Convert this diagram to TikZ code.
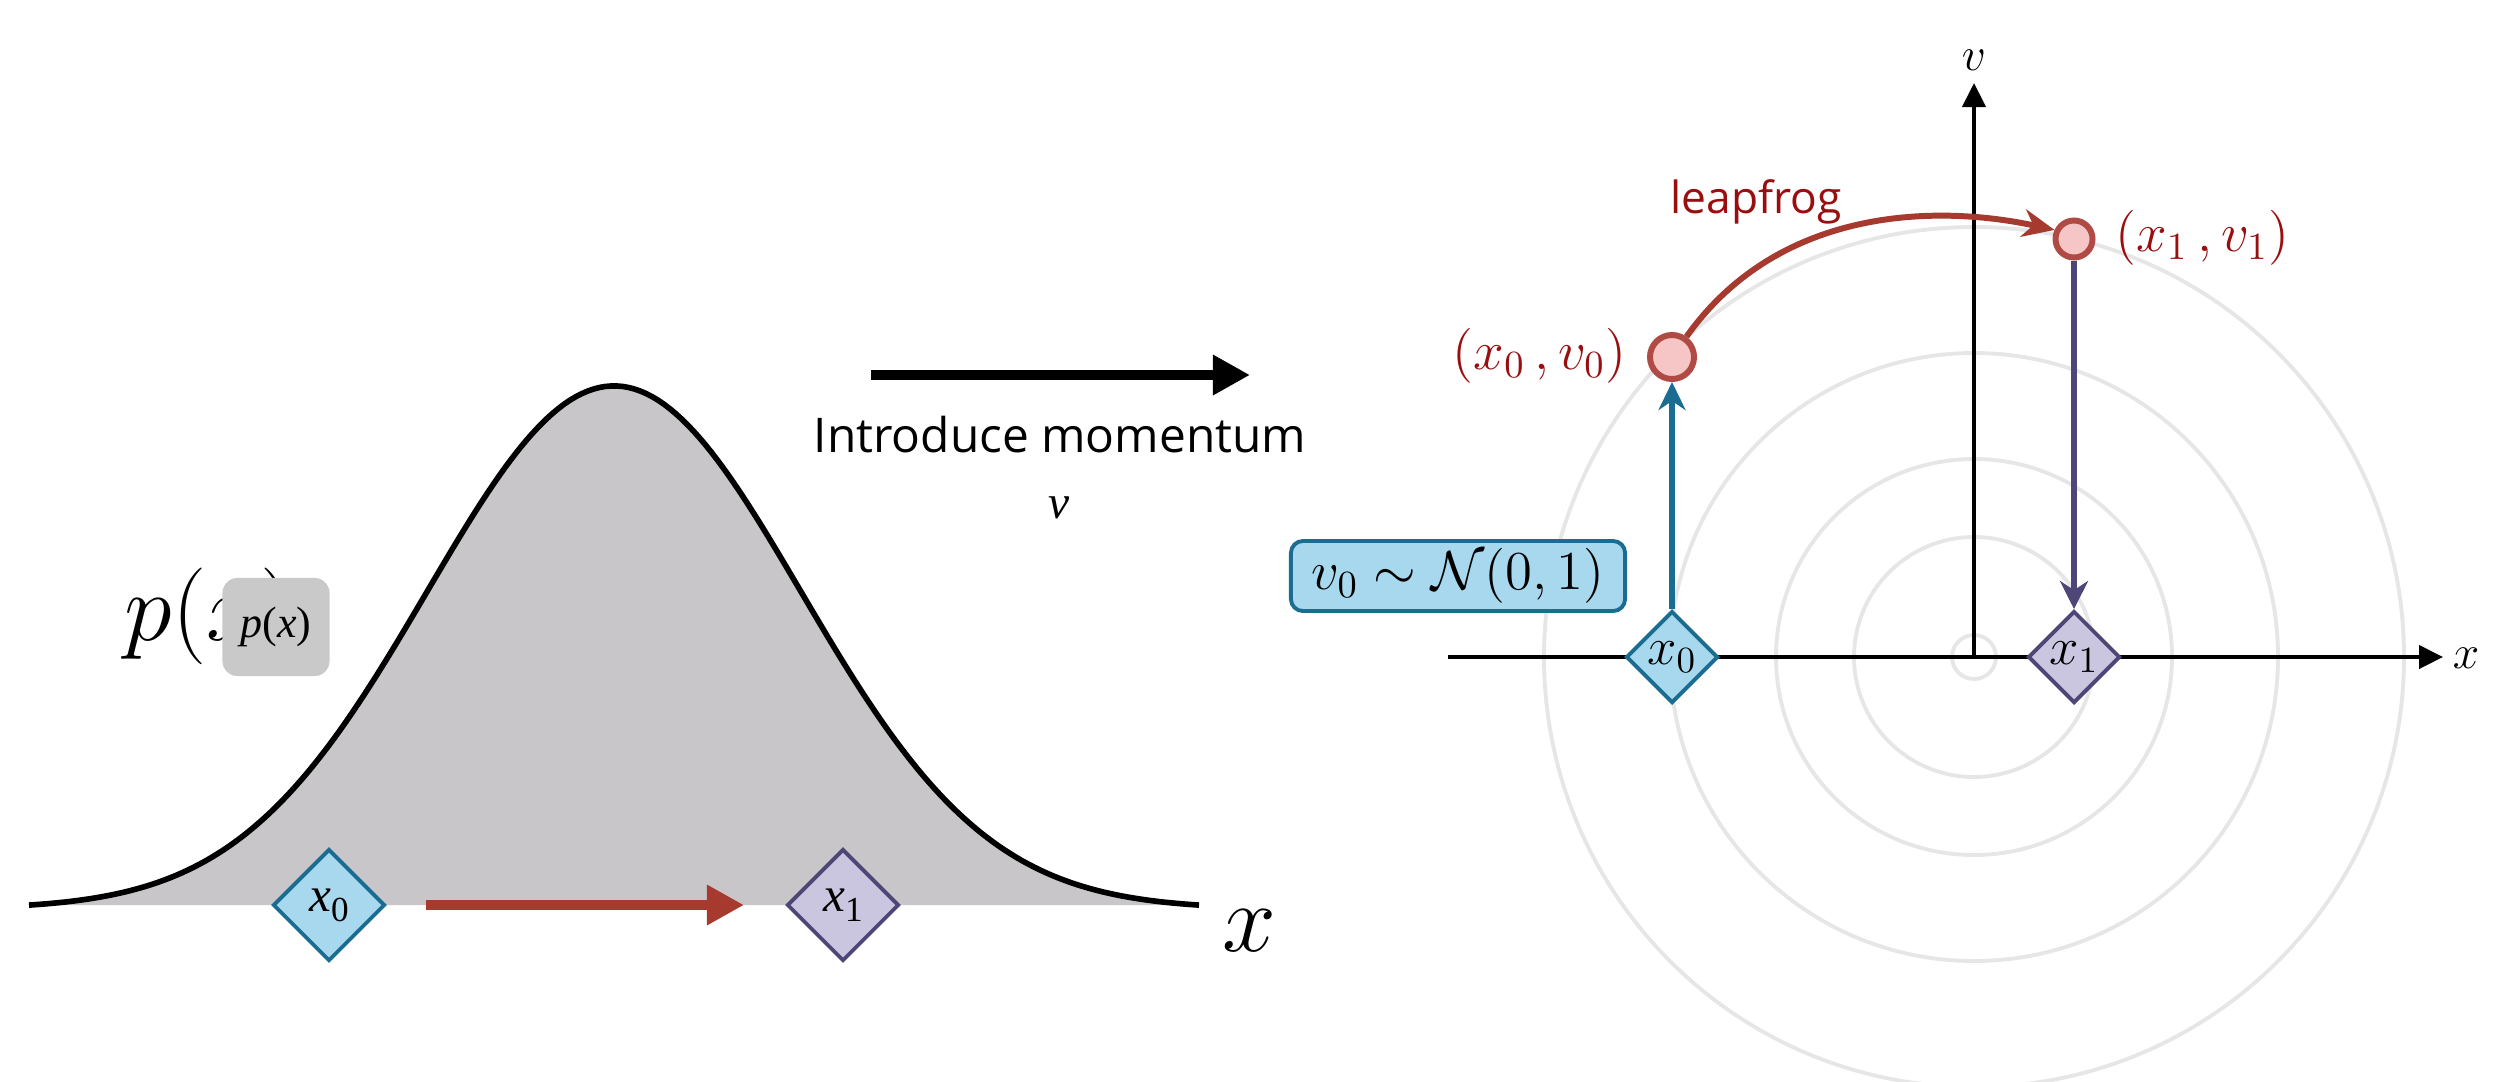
\RequirePackage{fix-cm}
\documentclass[tikz,border=0pt]{standalone}
\usepackage{fontspec}
\newfontfamily\osans{Open Sans}
\newfontfamily\tms{Liberation Serif}
\usetikzlibrary{arrows.meta,shapes.geometric}
\definecolor{curvegray}{HTML}{C8C6C9}
\definecolor{boxgray}{HTML}{C9C9C9}
\definecolor{bluefill}{HTML}{A8D8EE}
\definecolor{blueline}{HTML}{1A6C91}
\definecolor{purpfill}{HTML}{CAC6DF}
\definecolor{purpline}{HTML}{4E4677}
\definecolor{arrred}{HTML}{A63A2E}
\definecolor{txtred}{HTML}{990F0F}
\definecolor{ptfill}{HTML}{F6C6C6}
\definecolor{ptline}{HTML}{B04A45}
\definecolor{ringgray}{HTML}{E6E6E6}
\tikzset{
  bluediamond/.style={diamond, draw=blueline, fill=bluefill, line width=1.1pt, inner sep=0pt},
  purpdiamond/.style={diamond, draw=purpline, fill=purpfill, line width=1.1pt, inner sep=0pt},
  ptnode/.style={circle, draw=ptline, fill=ptfill, line width=1.7pt, inner sep=0pt},
  axisline/.style={line width=1.2pt, -{Triangle[length=0.24cm,width=0.23cm]}},
  ringline/.style={draw=ringgray, line width=1.1pt},
  bigarrow/.style={line width=2.6pt, -{Triangle[length=0.37cm,width=0.38cm]}},
}
\begin{document}
\begin{tikzpicture}[x=0.01cm,y=-0.01cm]
\useasboundingbox (0,0) rectangle (2500,1081);
% ---------------- left panel ----------------
\fill[curvegray] plot[domain=29:1199,samples=200] (\x,{909-523*exp(-0.5*((\x-614)/187)*((\x-614)/187))}) -- cycle;
\draw[line width=1.6pt, line join=round] plot[domain=29:1199,samples=200] (\x,{909-523*exp(-0.5*((\x-614)/187)*((\x-614)/187))});
\node[anchor=base west, inner sep=0pt] (pbig) at (124,640) {\fontsize{27.5}{30}\selectfont $p(x)$};
\node[fill=boxgray, rounded corners=0.15cm, minimum width=1.07cm, minimum height=0.98cm, inner sep=0pt] (psmall) at (276,627)
  {\tms\fontsize{12.5}{14}\selectfont\itshape p\upshape(\itshape x\upshape)};
\node[inner sep=0pt] (xlabL) at (1249,931) {\fontsize{27.5}{30}\selectfont $x$};
\node[bluediamond, minimum size=1.12cm] (lx0) at (329,905)
  {\tms\fontsize{14}{16}\selectfont\itshape x\raisebox{-0.45ex}{\upshape\fontsize{10}{12}\selectfont 0}};
\node[purpdiamond, minimum size=1.12cm] (lx1) at (843,905)
  {\tms\fontsize{14}{16}\selectfont\itshape x\raisebox{-0.45ex}{\upshape\fontsize{10}{12}\selectfont 1}};
\draw[arrred, bigarrow, shorten <=0.39cm, shorten >=0.41cm] (lx0) -- (lx1);
% ---------------- middle ----------------
\coordinate (ma) at (871,375);
\coordinate (mb) at (1250,375);
\draw[bigarrow] (ma) -- (mb);
\node[anchor=base, inner sep=0pt] (intro) at (1060,452) {\osans\fontsize{13.6}{16}\selectfont Introduce momentum};
\node[anchor=base, inner sep=0pt] (vmid) at (1059,518) {\tms\itshape\fontsize{13.5}{16}\selectfont v};
% ---------------- right panel ----------------
\coordinate (O) at (1974,657);
\begin{scope}
\clip (0,0) rectangle (2500,1081);
\foreach \r in {22,120,198,304,430} {
  \draw[ringline] (O) circle[radius={\r*0.01cm}];
}
\end{scope}
\coordinate (xs) at (1448,657);
\coordinate (xe) at (2443,657);
\coordinate (ve) at (1974,83);
\draw[axisline] (xs) -- (xe);
\draw[axisline] (O) -- (ve);
\node[inner sep=0pt] (xlabR) at (2466,658) {\fontsize{13.5}{16}\selectfont $x$};
\node[inner sep=0pt] (vlab) at (1974,60) {\fontsize{13.5}{16}\selectfont $v$};
\node[bluediamond, minimum size=0.92cm] (rx0) at (1672,657) {\fontsize{15}{17}\selectfont $x_0$};
\node[purpdiamond, minimum size=0.92cm] (rx1) at (2074,657) {\fontsize{15}{17}\selectfont $x_1$};
\node[ptnode, minimum size=0.44cm] (P0) at (1672,357) {};
\node[ptnode, minimum size=0.37cm] (P1) at (2074,239) {};
\draw[blueline, line width=1.5pt, -{Stealth[length=0.28cm,width=0.27cm]}] (rx0) -- (P0);
\draw[purpline, line width=1.5pt, -{Stealth[length=0.28cm,width=0.28cm]}] (P1) -- (rx1);
\draw[arrred, line width=1.7pt, -{Stealth[length=0.32cm,width=0.28cm]}]
  (P0) .. controls (1780,205) and (1940,205) .. (P1.155);
\node[draw=blueline, fill=bluefill, line width=1.1pt, rounded corners=0.12cm, minimum width=3.34cm, minimum height=0.70cm, inner sep=0pt] (nbox) at (1458,576)
  {\fontsize{15.6}{18}\selectfont $v_0\sim\mathcal{N}(0,1)$};
\node[anchor=east, inner sep=0pt, text=txtred] (l0) at (1627,356) {\fontsize{15.6}{18}\selectfont $(x_0\,,v_0)$};
\node[anchor=west, inner sep=0pt, text=txtred] (l1) at (2115,238) {\fontsize{15.6}{18}\selectfont $(x_1\,,v_1)$};
\node[anchor=base, inner sep=0pt, text=txtred] (leap) at (1756,213) {\osans\fontsize{12.6}{15}\selectfont leapfrog};
\end{tikzpicture}
\end{document}
